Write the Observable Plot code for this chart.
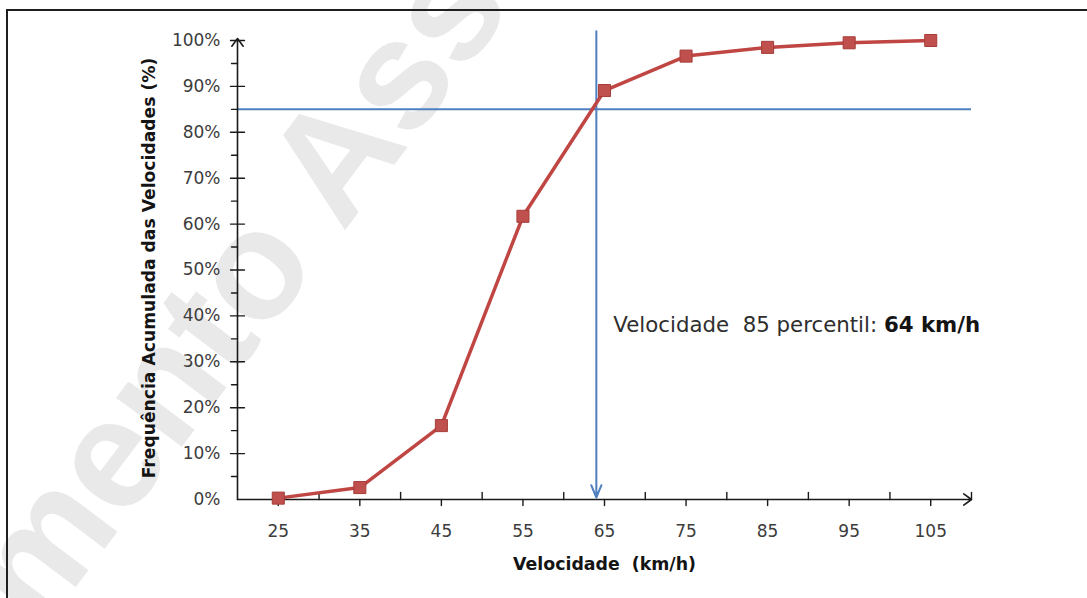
<!DOCTYPE html>
<html>
<head>
<meta charset="utf-8">
<script src="https://cdn.jsdelivr.net/npm/d3@7"></script>
<script src="https://cdn.jsdelivr.net/npm/@observablehq/plot@0.6"></script>
<style>
html, body { margin: 0; padding: 0; background: #fff; }
#wrap { position: relative; width: 1087px; height: 598px; overflow: hidden; background: #fff; }
#chart { position: absolute; left: 0; top: 0; }
#frame { position: absolute; left: 6px; top: 9px; right: -10px; bottom: -10px;
  border-top: 2px solid #1e1e1e; border-left: 2px solid #1e1e1e; pointer-events: none; }
</style>
</head>
<body>
<div id="wrap"><div id="chart"></div><div id="frame"></div></div>
<script>
// ---- data ----
const speeds = [25, 35, 45, 55, 65, 75, 85, 95, 105];
const cumFreq = [0.3, 2.6, 16.1, 61.7, 89.1, 96.6, 98.5, 99.5, 100];
const xTickLabels = [25, 35, 45, 55, 65, 75, 85, 95, 105];
const xMinorTicks = [30, 40, 50, 60, 70, 80, 90, 100, 110];
const yTickLabels = [0, 10, 20, 30, 40, 50, 60, 70, 80, 90, 100];
const yMinorTicks = [5, 15, 25, 35, 45, 55, 65, 75, 85, 95];
const xDomain = [20, 110];
const yDomain = [0, 100];
const percentileLevel = 85;
const percentileSpeed = 64;
const percentileTop = 102;
const annotationY = 36.4;
const xTitle = "Velocidade\u00a0 (km/h)";
const yTitle = "Frequência Acumulada das Velocidades (%)";
const annotationText = "Velocidade\u00a0 85 percentil: ";
const annotationBold = "64 km/h";
const watermark = ["Documento Assinado"];

// ---- helpers ----
const FONT = "DejaVu Sans";
const canvas = document.createElement("canvas");
const ctx = canvas.getContext("2d");
function textWidth(str, size, weight = "normal", family = FONT) {
  ctx.font = `${weight} ${size}px "${family}"`;
  return ctx.measureText(str).width;
}
function fitSize(str, target, weight = "normal", family = FONT) {
  return target / textWidth(str, 1, weight, family);
}

const data = speeds.map((s, i) => ({speed: s, freq: cumFreq[i]}));
const W = 1087, H = 598;
const mL = 237, mR = 116, mT = 40, mB = 99;

const axisColor = "#1a1a1a";
const labelColor = "#3c3c3c";
const blue = "#4f7fbf";
const red = "#bf4643";
const tickShape = {draw(context, l) { context.moveTo(0, 0); context.lineTo(0, -l); }};

// font sizes fitted to reference widths
const yTitleSize = Math.min(18, fitSize(yTitle, 421, "bold"));
const xTitleSize = Math.min(19, fitSize(xTitle, 183, "bold"));
const annSize = 367 / (textWidth(annotationText, 1) + textWidth(annotationBold, 1, "bold"));
const annNormalW = textWidth(annotationText, annSize);

// watermark geometry (rotated text)
const wmSize = 155, wmAngle = -53, wmFamily = "Liberation Sans";
const rad = wmAngle * Math.PI / 180;
const u = [Math.cos(rad), Math.sin(rad)];
const n = [-Math.sin(rad), Math.cos(rad)];
const aCenter = [335, 150];
const cap = 0.716 * wmSize;
const baseA = [aCenter[0] + n[0] * cap / 2, aCenter[1] + n[1] * cap / 2];
const off = textWidth("Documento ", wmSize, "bold", wmFamily) + textWidth("A", wmSize, "bold", wmFamily) / 2;
const wmStart = [baseA[0] - u[0] * off, baseA[1] - u[1] * off];

const chart = Plot.plot({
  width: W, height: H,
  marginLeft: mL, marginRight: mR, marginTop: mT, marginBottom: mB,
  style: {fontFamily: FONT, fontSize: "17px", background: "white", color: labelColor},
  x: {domain: xDomain, axis: null},
  y: {domain: yDomain, axis: null},
  marks: [
    // watermark
    Plot.text(watermark, {
      text: d => d, frameAnchor: "top-left",
      dx: wmStart[0] - mL, dy: wmStart[1] - mT,
      rotate: wmAngle, textAnchor: "start", lineAnchor: "bottom",
      fontSize: wmSize, fontFamily: wmFamily, fontWeight: "bold", fill: "#e9e9e9"
    }),
    // 85th percentile guides
    Plot.ruleY([percentileLevel], {x1: xDomain[0], x2: xDomain[1], stroke: blue, strokeWidth: 2}),
    Plot.arrow([{x: percentileSpeed, y1: percentileTop, y2: yDomain[0]}], {
      x1: "x", x2: "x", y1: "y1", y2: "y2", stroke: blue, strokeWidth: 2,
      headLength: 10, headAngle: 45, insetEnd: 2
    }),
    // axes lines with arrows
    Plot.arrow([{x1: xDomain[0], x2: xDomain[1], y: yDomain[0]}], {
      x1: "x1", x2: "x2", y1: "y", y2: "y", stroke: axisColor, strokeWidth: 1.6,
      headLength: 9, headAngle: 72
    }),
    Plot.arrow([{x: xDomain[0], y1: yDomain[0], y2: yDomain[1]}], {
      x1: "x", x2: "x", y1: "y1", y2: "y2", stroke: axisColor, strokeWidth: 1.6,
      headLength: 9, headAngle: 72, insetEnd: -2
    }),
    // x ticks
    Plot.vector(xMinorTicks, {x: d => d, y: yDomain[0], length: 7, rotate: 0, anchor: "start",
      shape: tickShape, stroke: axisColor, strokeWidth: 1.4}),
    Plot.vector(xTickLabels, {x: d => d, y: yDomain[0], length: 6, rotate: 180, anchor: "start",
      shape: tickShape, stroke: axisColor, strokeWidth: 1.4}),
    // y ticks
    Plot.vector(yMinorTicks, {x: xDomain[0], y: d => d, length: 6, rotate: 270, anchor: "start",
      shape: tickShape, stroke: axisColor, strokeWidth: 1.4}),
    Plot.vector(yTickLabels.slice(1), {x: xDomain[0], y: d => d, length: 14, rotate: 90, anchor: "middle",
      shape: tickShape, stroke: axisColor, strokeWidth: 1.4}),
    // tick labels
    Plot.text(xTickLabels, {x: d => d, y: yDomain[0], text: d => `${d}`, dy: 32,
      fill: labelColor, fontSize: 17}),
    Plot.text(yTickLabels, {x: xDomain[0], y: d => d, text: d => `${d}%`, dx: -17,
      textAnchor: "end", fill: labelColor, fontSize: 17}),
    // data line + markers
    Plot.line(data, {x: "speed", y: "freq", stroke: red, strokeWidth: 3.5, strokeLinejoin: "round"}),
    Plot.dot(data, {x: "speed", y: "freq", symbol: "square", r: 6.8, fill: "#c0504d",
      stroke: "#a53d3a", strokeWidth: 1}),
    // annotation
    Plot.text([annotationText], {x: percentileSpeed, y: annotationY, text: d => d, dx: 17,
      textAnchor: "start", lineAnchor: "bottom", fontSize: annSize, fill: "#2e2e2e"}),
    Plot.text([annotationBold], {x: percentileSpeed, y: annotationY, text: d => d, dx: 17 + annNormalW,
      textAnchor: "start", lineAnchor: "bottom", fontSize: annSize, fontWeight: "bold", fill: "#141414"}),
    // axis titles
    Plot.text([xTitle], {frameAnchor: "bottom", text: d => d, dy: 70, lineAnchor: "bottom",
      textAnchor: "middle", fontWeight: "bold", fontSize: xTitleSize, fill: "#141414"}),
    Plot.text([yTitle], {frameAnchor: "left", text: d => d, dx: 149 - mL, dy: -2, rotate: -90,
      textAnchor: "middle", lineAnchor: "middle",
      fontWeight: "bold", fontSize: yTitleSize, fill: "#141414"})
  ]
});
document.getElementById("chart").appendChild(chart);
</script>
</body>
</html>
